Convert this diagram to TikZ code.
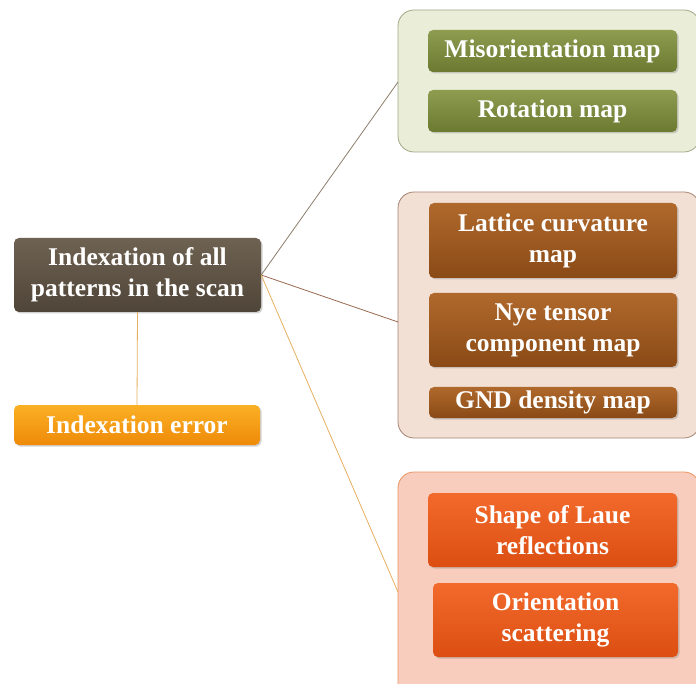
\documentclass[tikz,border=0pt]{standalone}
\usepackage{fontspec}
\setmainfont{Liberation Serif}
\usetikzlibrary{shadows}
\definecolor{rootA}{HTML}{6E6252}
\definecolor{rootB}{HTML}{4F4538}
\definecolor{errA}{HTML}{FBB024}
\definecolor{errB}{HTML}{EE8A08}
\definecolor{grpGfill}{HTML}{EAEDD8}
\definecolor{grpGline}{HTML}{A3A888}
\definecolor{itemGA}{HTML}{8E9C50}
\definecolor{itemGB}{HTML}{6B7A30}
\definecolor{grpBfill}{HTML}{F2E0D4}
\definecolor{grpBline}{HTML}{A58472}
\definecolor{itemBA}{HTML}{B0692C}
\definecolor{itemBB}{HTML}{8A4A16}
\definecolor{grpOfill}{HTML}{F9CDBD}
\definecolor{grpOline}{HTML}{EC9464}
\definecolor{itemOA}{HTML}{F26A2C}
\definecolor{itemOB}{HTML}{DC4E12}
\definecolor{lnRoot}{HTML}{8C7E6A}
\definecolor{lnBrown}{HTML}{9A6A50}
\definecolor{lnGold}{HTML}{E6B060}
\tikzset{
  x=1pt, y=-1pt,
  lbl/.style={text=white, font=\bfseries\fontsize{25.5}{31}\selectfont, align=center},
  box/.style={rounded corners=5pt, drop shadow={shadow xshift=1.5pt, shadow yshift=-1.5pt, opacity=0.35}},
  grp/.style={rounded corners=16pt, line width=0.8pt},
  link/.style={line width=0.8pt},
}
\begin{document}
\begin{tikzpicture}
\useasboundingbox (0,0) rectangle (696,684);
\fill[white] (0,0) rectangle (696,684);

% group frames
\draw[grp, draw=grpGline, fill=grpGfill] (398,10) rectangle (700,152);
\draw[grp, draw=grpBline, fill=grpBfill] (398,192) rectangle (700,438);
\draw[grp, draw=grpOline, fill=grpOfill] (398,472) rectangle (700,700);
\coordinate (g1) at (398,82);
\coordinate (g2) at (398,322);
\coordinate (g3) at (398,592);

% root and error boxes
\node[box, top color=rootA, bottom color=rootB, minimum width=247pt, minimum height=74pt, lbl] (root) at (137.5,275) {Indexation of all\\patterns in the scan};
\node[box, top color=errA, bottom color=errB, minimum width=246pt, minimum height=40pt, lbl] (err) at (137,425) {Indexation error};

% green group items
\node[box, top color=itemGA, bottom color=itemGB, minimum width=249pt, minimum height=42pt, lbl] (mis) at (552.5,51) {Misorientation map};
\node[box, top color=itemGA, bottom color=itemGB, minimum width=249pt, minimum height=42pt, lbl] (rot) at (552.5,111) {Rotation map};

% brown group items
\node[box, top color=itemBA, bottom color=itemBB, minimum width=248pt, minimum height=75pt, lbl] (lat) at (553,240.5) {Lattice curvature\\map};
\node[box, top color=itemBA, bottom color=itemBB, minimum width=248pt, minimum height=74pt, lbl] (nye) at (553,330) {Nye tensor\\component map};
\node[box, top color=itemBA, bottom color=itemBB, minimum width=248pt, minimum height=31pt, lbl] (gnd) at (553,402.5) {GND density map};

% orange group items
\node[box, top color=itemOA, bottom color=itemOB, minimum width=249pt, minimum height=74pt, lbl] (shp) at (552.5,530) {Shape of Laue\\reflections};
\node[box, top color=itemOA, bottom color=itemOB, minimum width=245pt, minimum height=74pt, lbl] (ori) at (555.5,620) {Orientation\\scattering};

% connectors
\draw[link, draw=lnRoot] (root.east) -- (g1);
\draw[link, draw=lnBrown] (root.east) -- (g2);
\draw[link, draw=lnGold] (root.east) -- (g3);
\draw[link, draw=lnGold] (root.south) -- (err.north);
\end{tikzpicture}
\end{document}
